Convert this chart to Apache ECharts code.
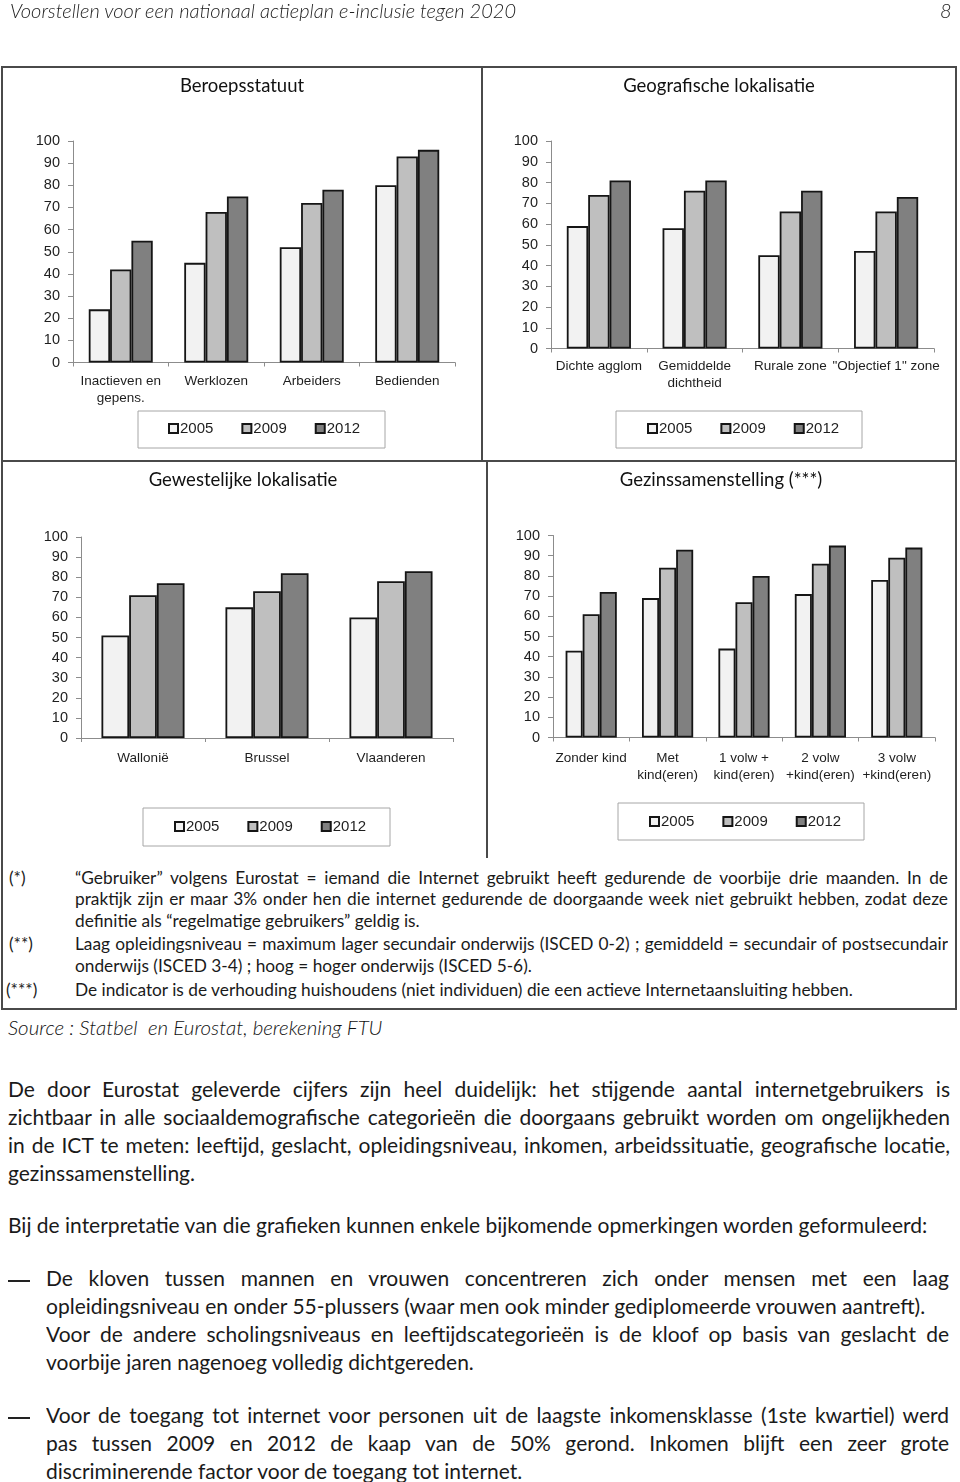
<!DOCTYPE html>
<html>
<head>
<meta charset="utf-8">
<script src="https://cdn.jsdelivr.net/npm/echarts@6/dist/echarts.min.js"></script>
<style>
  html, body { margin:0; padding:0; background:#fff; }
  body { width:960px; height:1482px; position:relative; overflow:hidden; font-family: Lato, "Open Sans", sans-serif; color:#1a1a1a; }
  #chart { position:absolute; left:0; top:0; width:960px; height:860px; z-index:0; }
  .hl { position:absolute; background:#4a4a4a; z-index:2; }
  .ln { position:absolute; white-space:nowrap; z-index:2; }
  .j { text-align:justify; text-align-last:justify; white-space:normal; overflow:hidden; }
  .fn { font-size:17.3px; line-height:22px; height:22px; font-weight:400; color:#1a1a1a; }
  .bd { font-size:21px; line-height:28px; height:28px; }
  .it { font-style:italic; }
</style>
</head>
<body>
<div class="ln it" style="left:10px; top:-2px; font-size:20px; line-height:24px; font-weight:300; color:#222;">Voorstellen voor een nationaal actieplan e-inclusie tegen 2020</div>
<div class="ln it" style="left:940px; top:-2px; font-size:20px; line-height:24px; font-weight:300; color:#222;">8</div>

<div id="chart"></div>

<!-- frame -->
<div class="hl" style="left:1px; top:66px; width:956px; height:2px;"></div>
<div class="hl" style="left:1px; top:1008px; width:956px; height:2px;"></div>
<div class="hl" style="left:1px; top:66px; width:2px; height:944px;"></div>
<div class="hl" style="left:955px; top:66px; width:2px; height:944px;"></div>
<div class="hl" style="left:1px; top:460px; width:956px; height:2px;"></div>
<div class="hl" style="left:481px; top:66px; width:2px; height:395px;"></div>
<div class="hl" style="left:486px; top:461px; width:2px; height:397px;"></div>

<!-- footnotes -->
<div class="ln fn" style="left:9px; top:867px;">(*)</div>
<div class="ln fn j" style="left:75px; width:873px; top:867px;">“Gebruiker” volgens Eurostat = iemand die Internet gebruikt heeft gedurende de voorbije drie maanden. In de</div>
<div class="ln fn j" style="left:75px; width:873px; top:888px;">praktijk zijn er maar 3% onder hen die internet gedurende de doorgaande week niet gebruikt hebben, zodat deze</div>
<div class="ln fn" style="left:75px; top:910px;">definitie als “regelmatige gebruikers” geldig is.</div>
<div class="ln fn" style="left:9px; top:933px;">(**)</div>
<div class="ln fn j" style="left:75px; width:873px; top:933px;">Laag opleidingsniveau = maximum lager secundair onderwijs (ISCED 0-2) ; gemiddeld = secundair of postsecundair</div>
<div class="ln fn" style="left:75px; top:955px;">onderwijs (ISCED 3-4) ; hoog = hoger onderwijs (ISCED 5-6).</div>
<div class="ln fn" style="left:6px; top:979px;">(***)</div>
<div class="ln fn" style="left:75px; top:979px;">De indicator is de verhouding huishoudens (niet individuen) die een actieve Internetaansluiting hebben.</div>

<div class="ln it" style="left:8px; top:1014px; font-size:20.5px; line-height:26px; font-weight:300; color:#111;">Source : Statbel&nbsp; en Eurostat, berekening FTU</div>

<!-- body -->
<div class="ln bd j" style="left:8px; width:942px; top:1075px;">De door Eurostat geleverde cijfers zijn heel duidelijk: het stijgende aantal internetgebruikers is</div>
<div class="ln bd j" style="left:8px; width:942px; top:1103px;">zichtbaar in alle sociaaldemografische categorieën die doorgaans gebruikt worden om ongelijkheden</div>
<div class="ln bd j" style="left:8px; width:942px; top:1131px;">in de ICT te meten: leeftijd, geslacht, opleidingsniveau, inkomen, arbeidssituatie, geografische locatie,</div>
<div class="ln bd" style="left:8px; top:1159px;">gezinssamenstelling.</div>

<div class="ln bd" style="left:8px; top:1211px;">Bij de interpretatie van die grafieken kunnen enkele bijkomende opmerkingen worden geformuleerd:</div>

<div class="hl" style="left:8px; top:1280px; width:22px; height:1.5px; background:#222;"></div>
<div class="ln bd j" style="left:46px; width:903px; top:1264px;">De kloven tussen mannen en vrouwen concentreren zich onder mensen met een laag</div>
<div class="ln bd" style="left:46px; top:1292px;">opleidingsniveau en onder 55-plussers (waar men ook minder gediplomeerde vrouwen aantreft).</div>
<div class="ln bd j" style="left:46px; width:903px; top:1320px;">Voor de andere scholingsniveaus en leeftijdscategorieën is de kloof op basis van geslacht de</div>
<div class="ln bd" style="left:46px; top:1348px;">voorbije jaren nagenoeg volledig dichtgereden.</div>

<div class="hl" style="left:8px; top:1417px; width:22px; height:1.5px; background:#222;"></div>
<div class="ln bd j" style="left:46px; width:903px; top:1401px;">Voor de toegang tot internet voor personen uit de laagste inkomensklasse (1ste kwartiel) werd</div>
<div class="ln bd j" style="left:46px; width:903px; top:1429px;">pas tussen 2009 en 2012 de kaap van de 50% gerond. Inkomen blijft een zeer grote</div>
<div class="ln bd" style="left:46px; top:1457px;">discriminerende factor voor de toegang tot internet.</div>

<script>
// ---------- data ----------
const years = ['2005', '2009', '2012'];

const beroepCats = ['Inactieven en\ngepens.', 'Werklozen', 'Arbeiders', 'Bedienden'];
const beroep2005 = [24, 45, 52, 80];
const beroep2009 = [42, 68, 72, 93];
const beroep2012 = [55, 75, 78, 96];

const geoCats = ['Dichte agglom', 'Gemiddelde\ndichtheid', 'Rurale zone', '"Objectief 1" zone'];
const geo2005 = [59, 58, 45, 47];
const geo2009 = [74, 76, 66, 66];
const geo2012 = [81, 81, 76, 73];

const gewestCats = ['Wallonië', 'Brussel', 'Vlaanderen'];
const gewest2005 = [51, 65, 60];
const gewest2009 = [71, 73, 78];
const gewest2012 = [77, 82, 83];

const gezinCats = ['Zonder kind', 'Met\nkind(eren)', '1 volw +\nkind(eren)', '2 volw\n+kind(eren)', '3 volw\n+kind(eren)'];
const gezin2005 = [43, 69, 44, 71, 78];
const gezin2009 = [61, 84, 67, 86, 89];
const gezin2012 = [72, 93, 80, 95, 94];

const chartTitles = ['Beroepsstatuut', 'Geografische lokalisatie', 'Gewestelijke lokalisatie', 'Gezinssamenstelling (***)'];

// ---------- layout ----------
const yearColors = ['#f2f2f2', '#bfbfbf', '#808080'];
const txt = '#1e1e1e';
const axisGray = '#8c8c8c';

const panels = [
  { cats: beroepCats, vals: [beroep2005, beroep2009, beroep2012], grid: {left: 73, top: 141, width: 382, height: 221.5}, labelMargin: 10, title: {x: 242, y: 88}, legend: {x: 168, y: 429, box: [138, 411, 247, 37]} },
  { cats: geoCats, vals: [geo2005, geo2009, geo2012], grid: {left: 551, top: 141, width: 383, height: 207.5}, labelMargin: 9, title: {x: 719, y: 88}, legend: {x: 647, y: 429, box: [616, 411, 246, 37]} },
  { cats: gewestCats, vals: [gewest2005, gewest2009, gewest2012], grid: {left: 81, top: 537, width: 372, height: 201}, labelMargin: 12, title: {x: 243, y: 482}, legend: {x: 174, y: 827, box: [143, 808, 247, 38]} },
  { cats: gezinCats, vals: [gezin2005, gezin2009, gezin2012], grid: {left: 553, top: 535.5, width: 382, height: 202}, labelMargin: 12, title: {x: 721, y: 482}, legend: {x: 649, y: 822, box: [618, 803, 246, 37]} }
];

const option = {
  animation: false,
  backgroundColor: 'transparent',
  title: [], grid: [], xAxis: [], yAxis: [], series: [], legend: [], graphic: []
};

panels.forEach((p, i) => {
  option.title.push({
    text: chartTitles[i], left: p.title.x, top: p.title.y - 11, textAlign: 'center', padding: 0,
    textStyle: { fontFamily: 'Lato', fontWeight: 'normal', fontSize: 18.5, color: '#111' }
  });
  option.grid.push(Object.assign({ containLabel: false }, p.grid));
  option.xAxis.push({
    type: 'category', gridIndex: i, data: p.cats,
    axisLine: { lineStyle: { color: axisGray, width: 1 } },
    axisTick: { show: true, length: 4, lineStyle: { color: axisGray } },
    axisLabel: { interval: 0, color: txt, fontFamily: 'Liberation Sans', fontSize: 13.5, lineHeight: 17, margin: p.labelMargin }
  });
  option.yAxis.push({
    type: 'value', gridIndex: i, min: 0, max: 100, interval: 10,
    axisLine: { show: true, lineStyle: { color: axisGray, width: 1 } },
    axisTick: { show: true, length: 5, lineStyle: { color: axisGray } },
    splitLine: { show: false },
    axisLabel: { color: txt, fontFamily: 'Liberation Sans', fontSize: 14.5, margin: 13 }
  });
  years.forEach((y, k) => {
    option.series.push({
      type: 'bar', name: y, xAxisIndex: i, yAxisIndex: i, data: p.vals[k],
      barGap: '0%', barCategoryGap: '33%',
      itemStyle: { color: yearColors[k], borderColor: '#151515', borderWidth: 1.8 }
    });
  });
  option.legend.push({
    data: years, left: p.legend.x, top: p.legend.y - 8, padding: 0, itemGap: 28,
    itemWidth: 9, itemHeight: 9, icon: 'rect', selectedMode: false,
    textStyle: { color: txt, fontFamily: 'Liberation Sans', fontSize: 15, padding: [0, 0, 0, -3] }
  });
  const b = p.legend.box;
  option.graphic.push({
    type: 'rect', shape: { x: b[0], y: b[1], width: b[2], height: b[3] },
    style: { fill: 'none', stroke: '#a6a6a6', lineWidth: 1 }, silent: true, z: -1
  });
});

const chart = echarts.init(document.getElementById('chart'), null, { renderer: 'canvas' });
chart.setOption(option);

// shrink justified lines whose natural width exceeds their box so each stays on one line
document.querySelectorAll('.j').forEach(el => {
  const target = el.clientWidth;
  const probe = document.createElement('span');
  const cs = getComputedStyle(el);
  probe.style.cssText = 'position:absolute;visibility:hidden;white-space:nowrap;font:' + cs.font;
  probe.textContent = el.textContent;
  document.body.appendChild(probe);
  const w = probe.getBoundingClientRect().width;
  probe.remove();
  if (w > target - 2) {
    el.style.fontSize = (parseFloat(cs.fontSize) * (target - 4) / w) + 'px';
  }
});
</script>
</body>
</html>
